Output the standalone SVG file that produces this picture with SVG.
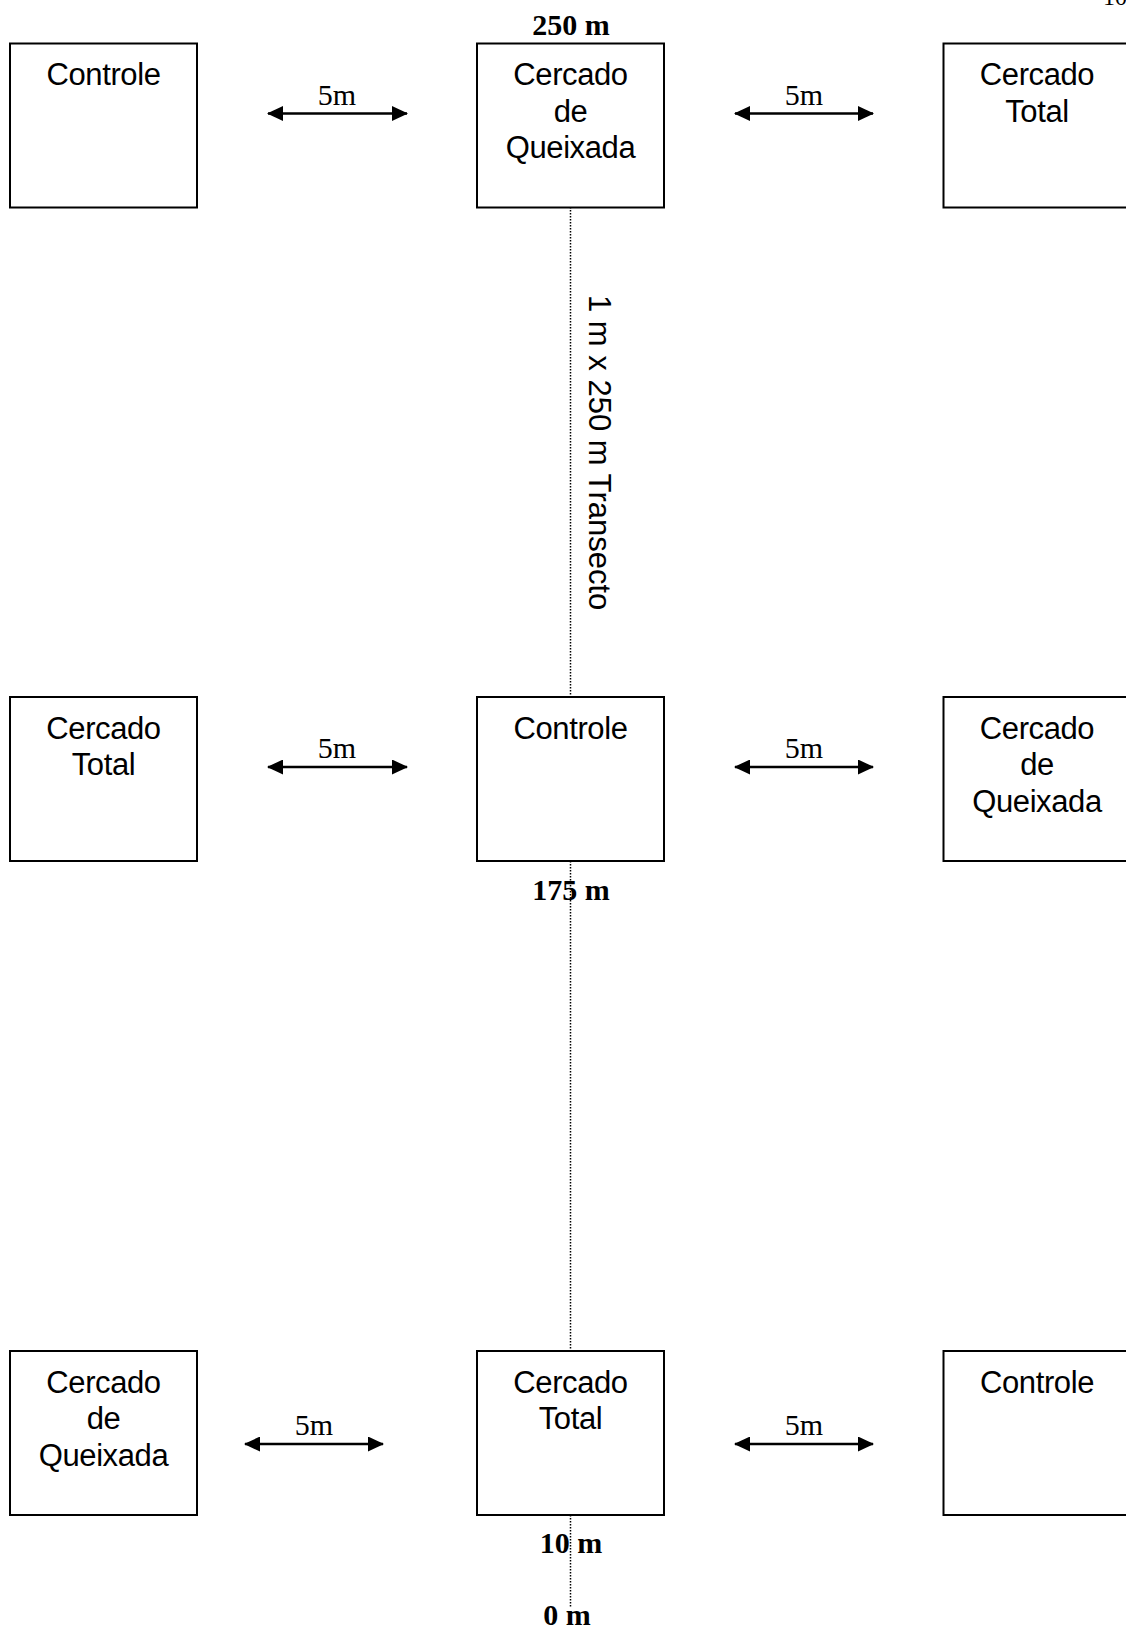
<svg xmlns="http://www.w3.org/2000/svg" width="1126" height="1626" viewBox="0 0 1126 1626">
<style>
.box{fill:#fff;stroke:#000;stroke-width:2}
.lbl{font-family:"Liberation Sans",Arial,sans-serif;font-size:31px;letter-spacing:-0.4px;fill:#000;text-anchor:middle}
.dist{font-family:"Liberation Serif","Times New Roman",serif;font-size:30px;fill:#000;text-anchor:middle}
.mark{font-family:"Liberation Serif","Times New Roman",serif;font-size:30px;font-weight:bold;fill:#000;text-anchor:middle}
.arr{stroke:#000;stroke-width:2.5;fill:none;marker-start:url(#ah);marker-end:url(#ah)}
.transect{stroke:#000;stroke-width:1.5;stroke-dasharray:1.5 1.5;fill:none}
</style>
<defs>
<marker id="ah" viewBox="0 0 16 15" refX="15" refY="7.5" markerWidth="16" markerHeight="15" markerUnits="userSpaceOnUse" orient="auto-start-reverse">
<path d="M0,0 L16,7.5 L0,15 z" fill="#000"/>
</marker>
</defs>
<rect width="1126" height="1626" fill="#fff"/>
<text x="1103" y="5" font-family="Liberation Serif,serif" font-size="24">10</text>
<g id="connectors">
<line class="transect" x1="570.5" y1="207" x2="570.5" y2="1608"/>
<line class="arr" x1="268" y1="113.5" x2="407" y2="113.5"/>
<line class="arr" x1="735" y1="113.5" x2="873" y2="113.5"/>
<line class="arr" x1="268" y1="767" x2="407" y2="767"/>
<line class="arr" x1="735" y1="767" x2="873" y2="767"/>
<line class="arr" x1="245" y1="1444" x2="383" y2="1444"/>
<line class="arr" x1="735" y1="1444" x2="873" y2="1444"/>
<text class="dist" x="337" y="105">5m</text>
<text class="dist" x="804" y="105">5m</text>
<text class="dist" x="337" y="758">5m</text>
<text class="dist" x="804" y="758">5m</text>
<text class="dist" x="314" y="1435">5m</text>
<text class="dist" x="804" y="1435">5m</text>
</g>
<g id="n1"><rect class="box" x="10" y="43.5" width="187" height="164"/><text class="lbl" x="103.5" y="85">Controle</text></g>
<g id="n2"><rect class="box" x="477" y="43.5" width="187" height="164"/><text class="lbl" x="570.5" y="85">Cercado</text><text class="lbl" x="570.5" y="121.5">de</text><text class="lbl" x="570.5" y="158">Queixada</text></g>
<g id="n3"><rect class="box" x="943.5" y="43.5" width="187" height="164"/><text class="lbl" x="1037" y="85">Cercado</text><text class="lbl" x="1037" y="121.5">Total</text></g>
<g id="n4"><rect class="box" x="10" y="697" width="187" height="164"/><text class="lbl" x="103.5" y="738.5">Cercado</text><text class="lbl" x="103.5" y="775">Total</text></g>
<g id="n5"><rect class="box" x="477" y="697" width="187" height="164"/><text class="lbl" x="570.5" y="738.5">Controle</text></g>
<g id="n6"><rect class="box" x="943.5" y="697" width="187" height="164"/><text class="lbl" x="1037" y="738.5">Cercado</text><text class="lbl" x="1037" y="775">de</text><text class="lbl" x="1037" y="811.5">Queixada</text></g>
<g id="n7"><rect class="box" x="10" y="1351" width="187" height="164"/><text class="lbl" x="103.5" y="1392.5">Cercado</text><text class="lbl" x="103.5" y="1429">de</text><text class="lbl" x="103.5" y="1465.5">Queixada</text></g>
<g id="n8"><rect class="box" x="477" y="1351" width="187" height="164"/><text class="lbl" x="570.5" y="1392.5">Cercado</text><text class="lbl" x="570.5" y="1429">Total</text></g>
<g id="n9"><rect class="box" x="943.5" y="1351" width="187" height="164"/><text class="lbl" x="1037" y="1392.5">Controle</text></g>
<g id="labels">
<text class="mark" x="571" y="35">250 m</text>
<text class="mark" x="571" y="900">175 m</text>
<text class="mark" x="571" y="1553">10 m</text>
<text class="mark" x="567" y="1625">0 m</text>
<text class="lbl" style="text-anchor:start;letter-spacing:0" transform="translate(589,295) rotate(90)">1 m x 250 m Transecto</text>
</g>
</svg>
